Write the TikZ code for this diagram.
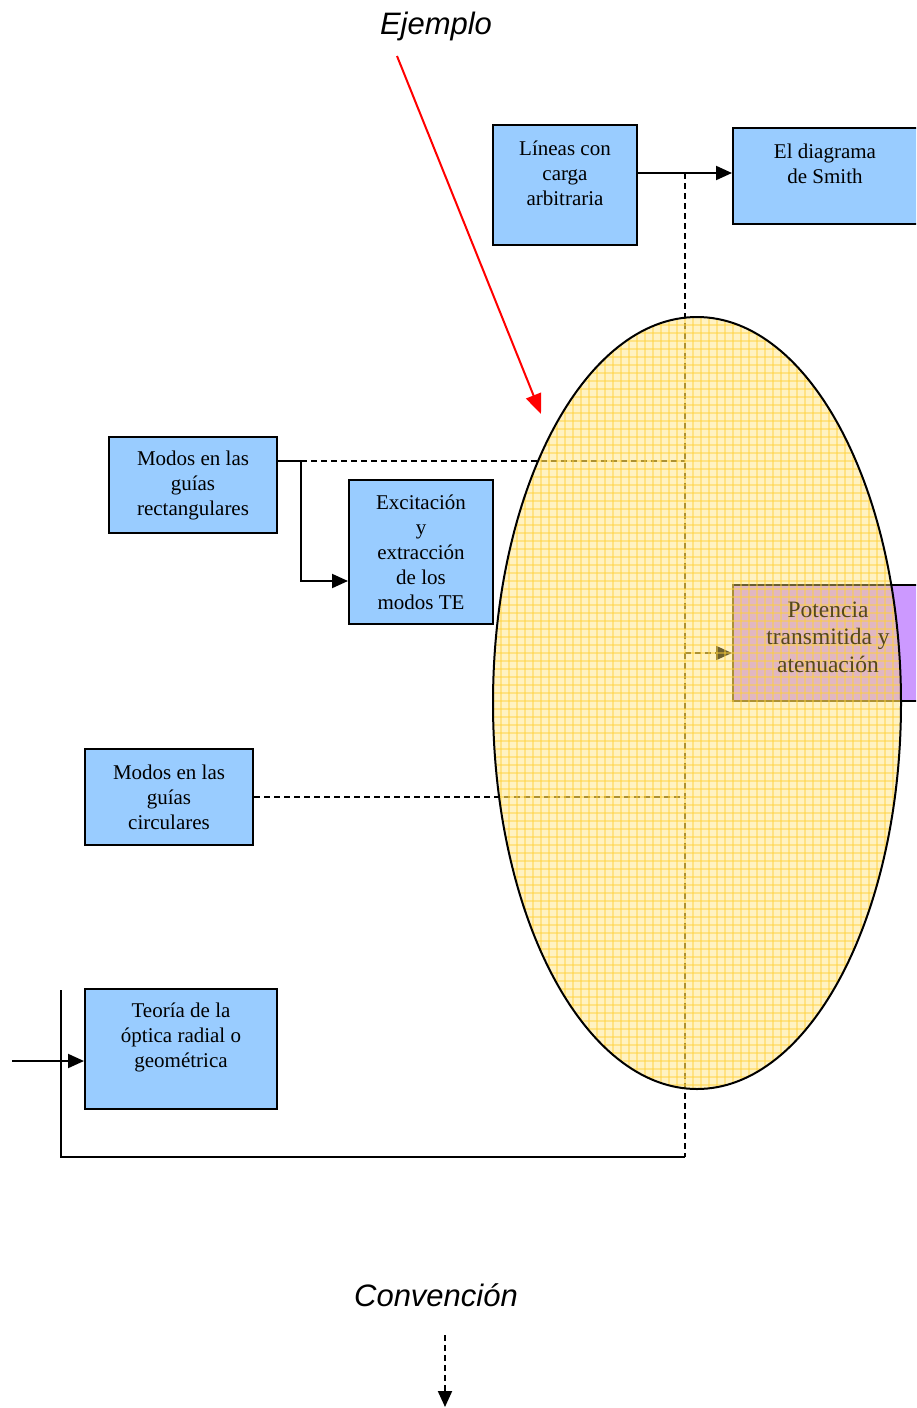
\documentclass[tikz,border=0pt]{standalone}
\usepackage{fontspec}
\setmainfont{Liberation Serif}
\newfontfamily\headfont{Liberation Sans}
\usetikzlibrary{arrows.meta}
\definecolor{boxblue}{RGB}{153,204,255}
\definecolor{boxviolet}{RGB}{204,153,255}
\definecolor{ovalfill}{RGB}{255,225,110}
\definecolor{ovalgrid}{RGB}{255,208,55}
\definecolor{shadedink}{RGB}{85,72,25}
\begin{document}
\begin{tikzpicture}[x=1pt,y=-1pt,
  box/.style={draw=black, line width=2pt, fill=boxblue, inner sep=0pt},
  boxtext/.style={font=\fontsize{21}{25}\selectfont, align=center, inner sep=0pt},
  link/.style={line width=2pt},
  dashlink/.style={line width=2pt, dash pattern=on 6pt off 4pt},
  tip/.style={-{Triangle[length=16pt,width=14pt]}},
  heading/.style={font=\headfont\itshape\fontsize{31}{36}\selectfont, inner sep=0pt}]

\useasboundingbox (0,0) rectangle (916,1408);
\clip (0,0) rectangle (916,1408);

% boxes
\node[box, minimum width=144pt, minimum height=120pt] (lin) at (565,185) {};
\node[boxtext] (lint) at (565,173) {Líneas con\\carga\\arbitraria};

\node[box, minimum width=200pt, minimum height=96pt] (smith) at (833,176) {};
\node[boxtext] (smitht) at (825,164) {El diagrama\\de Smith};

\node[box, fill=boxviolet, minimum width=200pt, minimum height=116pt] (pot) at (833,643) {};

\node[box, minimum width=168pt, minimum height=96pt] (rect) at (193,485) {};
\node[boxtext] (rectt) at (193,485) {Modos en las\\guías\\rectangulares};

\node[box, minimum width=144pt, minimum height=144pt] (exc) at (421,552) {};
\node[boxtext] (exct) at (421,552) {Excitación\\y\\extracción\\de los\\modos TE};

\node[box, minimum width=168pt, minimum height=96pt] (circ) at (169,797) {};
\node[boxtext] (circt) at (169,797) {Modos en las\\guías\\circulares};

\node[box, minimum width=192pt, minimum height=120pt] (teo) at (181,1049) {};
\node[boxtext] (teot) at (181,1037) {Teoría de la\\óptica radial o\\geométrica};

% junction points
\coordinate (top) at (685,173);
\coordinate (bot) at (685,1157);
\coordinate (corner) at (61,1157);
\coordinate (loopend) at (61,990);
\coordinate (split) at (301,461);
\coordinate (rectjoin) at (685,461);
\coordinate (circjoin) at (685,797);
\coordinate (potjoin) at (685,653);
\coordinate (feed) at (12,1061);

% connectors
\draw[link, tip] (lin.east |- top) -- (smith.west |- top);
\draw[dashlink] (top) -- (bot);
\draw[link] (bot) -- (corner) -- (loopend);
\draw[link] (rect.east |- split) -- (split);
\draw[dashlink] (split) -- (rectjoin);
\draw[link, tip] (split) |- (exc.west |- 0,581);
\draw[dashlink, tip] (potjoin) -- (pot.west |- potjoin);
\draw[dashlink] (circ.east) -- (circjoin);
\draw[link, tip] (feed) -- (teo.west |- feed);

% translucent oval laid over the map
\coordinate (ov) at (697,703);
\fill[ovalfill, fill opacity=0.42] (ov) ellipse [x radius=204pt, y radius=386pt];
\begin{scope}
  \clip (ov) ellipse [x radius=204pt, y radius=386pt];
  \foreach \gx in {493,501,...,901} \draw[ovalgrid, line width=1.3pt, opacity=0.45] (\gx,317) -- (\gx,1090);
  \foreach \gy in {317,325,...,1090} \draw[ovalgrid, line width=1.3pt, opacity=0.45] (493,\gy) -- (901,\gy);
\end{scope}
\draw[line width=2pt] (ov) ellipse [x radius=204pt, y radius=386pt];

% label of the box seen through the oval
\node[boxtext, text=shadedink, font=\fontsize{23.5}{27.5}\selectfont] (pott) at (828,637) {Potencia\\transmitida y\\atenuación};

% headings
\node[heading] (ej) at (436,26) {Ejemplo};
\coordinate (ejfrom) at (397,56);
\coordinate (ejto) at (541,414);
\draw[red, line width=2pt, -{Triangle[length=20pt,width=16pt]}] (ejfrom) -- (ejto);

\node[heading] (conv) at (436,1295) {Convención};
\coordinate (convfrom) at (445,1335);
\coordinate (convto) at (445,1407);
\draw[dashlink, tip] (convfrom) -- (convto);
\end{tikzpicture}
\end{document}
